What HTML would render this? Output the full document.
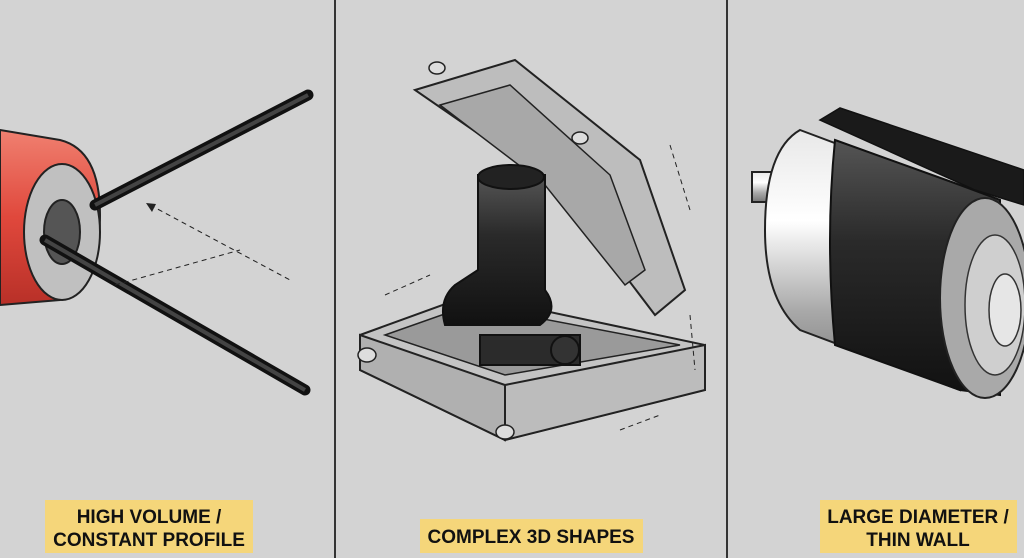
<!DOCTYPE html>
<html><head><meta charset="utf-8"><style>
html,body{margin:0;padding:0;background:#d3d3d3;}
svg{display:block}
.lbl{font-family:"Liberation Sans",sans-serif;font-weight:bold;font-size:19px;fill:#111;text-anchor:middle}
</style></head><body>
<svg width="1024" height="558" viewBox="0 0 1024 558" xmlns="http://www.w3.org/2000/svg">
<defs>
<linearGradient id="red" x1="0" y1="0" x2="0" y2="1"><stop offset="0" stop-color="#f08070"/><stop offset=".5" stop-color="#e0483c"/><stop offset="1" stop-color="#b83028"/></linearGradient>
<linearGradient id="metal" x1="0" y1="0" x2="0" y2="1"><stop offset="0" stop-color="#e8e8e8"/><stop offset=".35" stop-color="#ffffff"/><stop offset=".7" stop-color="#a8a8a8"/><stop offset="1" stop-color="#777"/></linearGradient>
<linearGradient id="dark" x1="0" y1="0" x2="0" y2="1"><stop offset="0" stop-color="#555"/><stop offset=".4" stop-color="#2a2a2a"/><stop offset="1" stop-color="#111"/></linearGradient>
</defs>
<rect width="1024" height="558" fill="#d3d3d3"/>
<line x1="335" y1="0" x2="335" y2="558" stroke="#333" stroke-width="2"/>
<line x1="727" y1="0" x2="727" y2="558" stroke="#333" stroke-width="2"/>

<!-- Panel 1 -->
<path d="M0 130 L60 140 Q100 150 100 215 Q100 285 60 300 L0 305 Z" fill="url(#red)" stroke="#222" stroke-width="2"/>
<ellipse cx="62" cy="232" rx="38" ry="68" fill="#c0c0c0" stroke="#222" stroke-width="2"/>
<ellipse cx="62" cy="232" rx="18" ry="32" fill="#555" stroke="#222" stroke-width="2"/>
<line x1="95" y1="205" x2="308" y2="95" stroke="#111" stroke-width="11" stroke-linecap="round"/>
<line x1="95" y1="205" x2="308" y2="95" stroke="#444" stroke-width="4"/>
<line x1="45" y1="240" x2="305" y2="390" stroke="#111" stroke-width="11" stroke-linecap="round"/>
<line x1="45" y1="240" x2="305" y2="390" stroke="#444" stroke-width="4"/>
<path d="M150 205 L290 280 M115 285 L240 250" stroke="#222" stroke-dasharray="5 4" fill="none"/>
<polygon points="146,203 156,204 152,212" fill="#222"/>
<rect x="45" y="500" width="208" height="53" fill="#f5d67a"/>
<text class="lbl" x="149" y="523">HIGH VOLUME /</text>
<text class="lbl" x="149" y="546">CONSTANT PROFILE</text>

<!-- Panel 2 -->
<polygon points="415,90 515,60 640,160 685,290 655,315 560,190" fill="#bdbdbd" stroke="#222" stroke-width="2"/>
<polygon points="440,105 510,85 610,175 645,270 625,285 545,185" fill="#a8a8a8" stroke="#222" stroke-width="1.5"/>
<polygon points="360,335 470,295 705,345 705,390 505,440 360,370" fill="#c4c4c4" stroke="#222" stroke-width="2"/>
<polygon points="360,335 505,385 505,440 360,370" fill="#b0b0b0" stroke="#222" stroke-width="2"/>
<polygon points="505,385 705,345 705,390 505,440" fill="#bcbcbc" stroke="#222" stroke-width="2"/>
<polygon points="385,335 470,305 680,345 505,375" fill="#9a9a9a" stroke="#222" stroke-width="1.5"/>
<path d="M478 175 L545 175 L545 290 Q560 310 540 325 L445 325 Q438 300 455 285 L478 270 Z" fill="url(#dark)" stroke="#111" stroke-width="2"/>
<ellipse cx="511" cy="177" rx="33" ry="12" fill="#222" stroke="#111" stroke-width="2"/>
<rect x="480" y="335" width="100" height="30" fill="#2b2b2b" stroke="#111" stroke-width="2"/>
<circle cx="565" cy="350" r="14" fill="#333" stroke="#111" stroke-width="2"/>
<ellipse cx="437" cy="68" rx="8" ry="6" fill="#ddd" stroke="#222" stroke-width="1.5"/>
<ellipse cx="580" cy="138" rx="8" ry="6" fill="#ddd" stroke="#222" stroke-width="1.5"/>
<ellipse cx="367" cy="355" rx="9" ry="7" fill="#ddd" stroke="#222" stroke-width="1.5"/>
<ellipse cx="505" cy="432" rx="9" ry="7" fill="#ddd" stroke="#222" stroke-width="1.5"/>
<path d="M385 295 L430 275 M620 430 L660 415 M670 145 L690 210 M690 315 L695 370" stroke="#222" stroke-dasharray="5 4" fill="none"/>
<rect x="420" y="519" width="223" height="34" fill="#f5d67a"/>
<text class="lbl" x="531" y="543">COMPLEX 3D SHAPES</text>

<!-- Panel 3 -->
<rect x="752" y="172" width="30" height="30" fill="url(#metal)" stroke="#222" stroke-width="2"/>
<path d="M800 130 L960 190 L960 390 L800 330 Q765 300 765 230 Q765 150 800 130 Z" fill="url(#metal)" stroke="#222" stroke-width="2"/>
<path d="M835 140 L960 185 L1000 200 L1000 395 L960 390 L835 345 Q825 240 835 140 Z" fill="url(#dark)" stroke="#111" stroke-width="2"/>
<path d="M820 120 L840 108 L1024 170 L1024 205 L975 190 Z" fill="#1a1a1a" stroke="#111" stroke-width="1.5"/>
<ellipse cx="985" cy="298" rx="45" ry="100" fill="#a9a9a9" stroke="#222" stroke-width="2"/>
<ellipse cx="995" cy="305" rx="30" ry="70" fill="#cfcfcf" stroke="#333" stroke-width="1.5"/>
<ellipse cx="1005" cy="310" rx="16" ry="36" fill="#e6e6e6" stroke="#333" stroke-width="1.5"/>
<rect x="820" y="500" width="197" height="53" fill="#f5d67a"/>
<text class="lbl" x="918" y="523">LARGE DIAMETER /</text>
<text class="lbl" x="918" y="546">THIN WALL</text>
</svg>
</body></html>
